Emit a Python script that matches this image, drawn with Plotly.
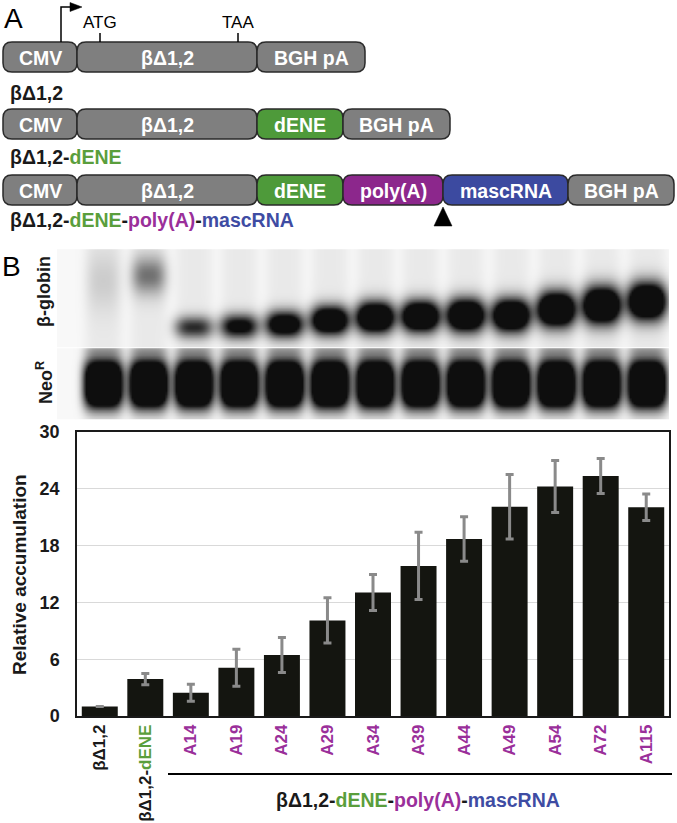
import numpy as np
import plotly.graph_objects as go

# ---------------- data ----------------
categories = ["βΔ1,2", "βΔ1,2-dENE", "A14", "A19", "A24", "A29", "A34",
              "A39", "A44", "A49", "A54", "A72", "A115"]
accumulation = [1.0, 3.9, 2.45, 5.1, 6.45, 10.1, 13.05, 15.85, 18.7, 22.1, 24.25, 25.35, 22.05]
accumulation_err = [0, 0.6, 0.9, 1.95, 1.85, 2.4, 1.9, 3.55, 2.35, 3.4, 2.75, 1.85, 1.4]
y_ticks = [0, 6, 12, 18, 24, 30]

# northern blot band readings (per lane): band centre row, intensity, band half-height
globin_band_pos = [280, 275, 327, 326, 324, 320, 317, 316, 315, 315, 309, 305, 301]
globin_band_int = [0.12, 0.5, 0.5, 0.68, 0.85, 1.0, 1.1, 1.1, 1.1, 1.1, 1.15, 1.15, 1.15]
globin_band_h = [30, 19, 11, 12, 13, 14, 15, 15, 16, 16, 17, 18, 18]
neo_band_pos = [384] * 13
neo_band_int = [1.0] * 13
neo_band_h = [24] * 13

# construct diagram rows (segment names)
row1 = ["CMV", "βΔ1,2", "BGH pA"]
row2 = ["CMV", "βΔ1,2", "dENE", "BGH pA"]
row3 = ["CMV", "βΔ1,2", "dENE", "poly(A)", "mascRNA", "BGH pA"]

# ---------------- styles ----------------
FONT = "Arial, Liberation Sans, sans-serif"
BLACK = "#1a1a1a"
GREEN = "#5a9e3c"
PURPLE = "#9a2f9a"
BLUE = "#3e4ca3"
seg_fill = {"CMV": "#7f7f7f", "βΔ1,2": "#7f7f7f", "BGH pA": "#7f7f7f",
            "dENE": "#4e9a3a", "poly(A)": "#8c278c", "mascRNA": "#3c4aa0"}
W, H = 677, 823

fig = go.Figure()

# ---------------- bar chart ----------------
fig.add_trace(go.Bar(
    x=categories, y=accumulation,
    marker=dict(color="#141510", line=dict(width=0)),
    error_y=dict(type="data", array=accumulation_err, color="#8a8a8a",
                 thickness=3, width=4),
    xaxis="x", yaxis="y", showlegend=False,
))

def lbl(cat):
    if cat == "βΔ1,2":
        return "<b>βΔ1,2</b>"
    if cat == "βΔ1,2-dENE":
        return f"<b>βΔ1,2-<span style='color:{GREEN}'>dENE</span></b>"
    return f"<b><span style='color:{PURPLE}'>{cat}</span></b>"

# ---------------- gel (heatmap) ----------------
gx0, gx1 = 58, 668
top0, top1 = 250, 346
bot0, bot1 = 349, 418
xs = np.arange(gx0, gx1 + 1, 2.0)
ys = np.arange(top0, bot1 + 1, 1.5)
XX, YY = np.meshgrid(xs, ys)
lane_x0, lane_dx = 103, 45.3
Z = np.full(XX.shape, 0.03)
in_top = (YY <= top1)
in_bot = (YY >= bot0)
for i in range(13):
    cx = lane_x0 + lane_dx * i
    colw = np.exp(-np.abs((XX - cx) / 19.0) ** 4)
    # lane smear
    Z += np.where(in_top, 0.06 * colw, 0)
    Z += np.where(in_bot, 0.07 * colw + 0.25 * colw * np.exp(-np.clip(YY - 352, 0, None) / 9.0), 0)
    # beta-globin band
    bw = np.exp(-np.abs((XX - cx) / (17.0 if i < 2 else 19.0)) ** 3)
    gb = bw * np.exp(-np.abs((YY - globin_band_pos[i]) / globin_band_h[i]) ** 2)
    mult = 1.0 if i < 2 else 1.6
    Z += np.where(in_top, np.clip(globin_band_int[i] * mult * gb, 0, 1), 0)
    # neo band
    nb_w = np.exp(-np.abs((XX - cx) / 19.5) ** 4)
    nb = nb_w * np.exp(-np.abs((YY - neo_band_pos[i]) / neo_band_h[i]) ** 3)
    Z += np.where(in_bot, np.clip(neo_band_int[i] * 1.8 * nb, 0, 1), 0)
Z = np.clip(Z, 0, 1)
Z[(YY > top1) & (YY < bot0)] = np.nan

fig.add_trace(go.Heatmap(
    x=xs, y=ys, z=Z, xaxis="x2", yaxis="y2",
    colorscale=[[0, "#ffffff"], [1, "#0e0e0e"]],
    zmin=0, zmax=1, showscale=False, zsmooth="best", hoverinfo="skip",
))

# ---------------- diagram shapes ----------------
shapes = []
annotations = []

def rrect(x0, y0, x1, y1, r=9):
    return (f"M {x0+r},{y0} L {x1-r},{y0} Q {x1},{y0} {x1},{y0+r} L {x1},{y1-r} "
            f"Q {x1},{y1} {x1-r},{y1} L {x0+r},{y1} Q {x0},{y1} {x0},{y1-r} "
            f"L {x0},{y0+r} Q {x0},{y0} {x0+r},{y0} Z")

seg_edges = {
    1: [3, 77, 257, 365],
    2: [3, 77, 257, 343, 450],
    3: [3, 77, 257, 343, 443, 568, 674],
}
row_y = {1: (42, 72), 2: (109, 139), 3: (175, 205)}
rows = {1: row1, 2: row2, 3: row3}
for r, names in rows.items():
    y0, y1 = row_y[r]
    ed = seg_edges[r]
    for k, name in enumerate(names):
        x0, x1 = ed[k], ed[k + 1]
        shapes.append(dict(type="path", path=rrect(x0, y0, x1, y1), xref="x2", yref="y2",
                           fillcolor=seg_fill[name], line=dict(color="#2a2a2a", width=1.5)))
        annotations.append(dict(x=(x0 + x1) / 2, y=(y0 + y1) / 2 + 1, xref="x2", yref="y2",
                                text=f"<b>{name}</b>", showarrow=False,
                                font=dict(family=FONT, size=19.5, color="white")))

# promoter arrow, ATG/TAA ticks
shapes.append(dict(type="path", path="M 61,42 L 61,7 L 72,7", xref="x2", yref="y2",
                   line=dict(color="black", width=1.5)))
shapes.append(dict(type="path", path="M 70,2.5 L 82,7 L 70,11.5 Z", xref="x2", yref="y2",
                   fillcolor="black", line=dict(color="black", width=0.5)))
shapes.append(dict(type="line", x0=100, x1=100, y0=33, y1=42, xref="x2", yref="y2",
                   line=dict(color="black", width=1.5)))
shapes.append(dict(type="line", x0=238, x1=238, y0=33, y1=42, xref="x2", yref="y2",
                   line=dict(color="black", width=1.5)))
annotations.append(dict(x=100, y=22, xref="x2", yref="y2", text="ATG", showarrow=False,
                        font=dict(family=FONT, size=17, color="black")))
annotations.append(dict(x=238, y=22, xref="x2", yref="y2", text="TAA", showarrow=False,
                        font=dict(family=FONT, size=17, color="black")))
# cleavage triangle
shapes.append(dict(type="path", path="M 443,207 L 452,226 L 434,226 Z", xref="x2", yref="y2",
                   fillcolor="black", line=dict(color="black", width=0.5)))

full_label = (f"<b>βΔ1,2-<span style='color:{GREEN}'>dENE</span>-"
              f"<span style='color:{PURPLE}'>poly(A)</span>-"
              f"<span style='color:{BLUE}'>mascRNA</span></b>")
row_labels = [("<b>βΔ1,2</b>", 93),
              (f"<b>βΔ1,2-<span style='color:{GREEN}'>dENE</span></b>", 157),
              (full_label, 220)]
for txt, yy in row_labels:
    annotations.append(dict(x=8, y=yy, xref="x2", yref="y2", text=txt, showarrow=False,
                            xanchor="left", font=dict(family=FONT, size=19.5, color=BLACK)))

# panel letters
annotations.append(dict(x=2, y=18, xref="x2", yref="y2", text="A", showarrow=False,
                        xanchor="left", font=dict(family=FONT, size=28, color="black")))
annotations.append(dict(x=0, y=266, xref="x2", yref="y2", text="B", showarrow=False,
                        xanchor="left", font=dict(family=FONT, size=28, color="black")))
# gel labels
annotations.append(dict(x=44, y=292, xref="x2", yref="y2", text="<b>β-globin</b>",
                        showarrow=False, textangle=-90,
                        font=dict(family=FONT, size=18, color=BLACK)))
annotations.append(dict(x=44, y=383, xref="x2", yref="y2", text="<b>Neo<sup>R</sup></b>",
                        showarrow=False, textangle=-90,
                        font=dict(family=FONT, size=18, color=BLACK)))
# y-axis title
annotations.append(dict(x=19, y=575, xref="x2", yref="y2", text="<b>Relative accumulation</b>",
                        showarrow=False, textangle=-90,
                        font=dict(family=FONT, size=19, color=BLACK)))
# group bracket + label
shapes.append(dict(type="line", x0=168, x1=672, y0=774, y1=774, xref="x2", yref="y2",
                   line=dict(color="black", width=2)))
annotations.append(dict(x=418, y=800, xref="x2", yref="y2", text=full_label, showarrow=False,
                        font=dict(family=FONT, size=19.5, color=BLACK)))

fig.update_layout(
    width=W, height=H, margin=dict(l=0, r=0, t=0, b=0),
    paper_bgcolor="white", plot_bgcolor="rgba(0,0,0,0)",
    bargap=0.21,
    xaxis=dict(domain=[77 / W, 669 / W], anchor="y", automargin=False,
               tickmode="array", tickvals=categories, ticktext=[lbl(c) for c in categories],
               tickangle=-90, tickfont=dict(family=FONT, size=17, color=BLACK),
               showline=True, linecolor="#1a1a1a", linewidth=1.5, mirror=True,
               ticks="", showgrid=False, fixedrange=True),
    yaxis=dict(domain=[1 - 716 / H, 1 - 432 / H], anchor="x", range=[0, 30], automargin=False,
               tickmode="array", tickvals=y_ticks, ticktext=[f"<b>{v}</b>" for v in y_ticks],
               tickfont=dict(family=FONT, size=18, color=BLACK), ticklabelstandoff=12,
               showline=True, linecolor="#1a1a1a", linewidth=1.5, mirror=True,
               gridcolor="#d9d9d9", gridwidth=1.2, ticks="", zeroline=False,
               fixedrange=True),
    xaxis2=dict(domain=[0, 1], anchor="y2", range=[0, W], visible=False, fixedrange=True),
    yaxis2=dict(domain=[0, 1], anchor="x2", range=[H, 0], visible=False, fixedrange=True),
    shapes=shapes, annotations=annotations,
)

fig.write_html("out.html", config={"displayModeBar": False},
               post_script="document.body.style.margin='0';document.body.style.overflow='hidden';")
